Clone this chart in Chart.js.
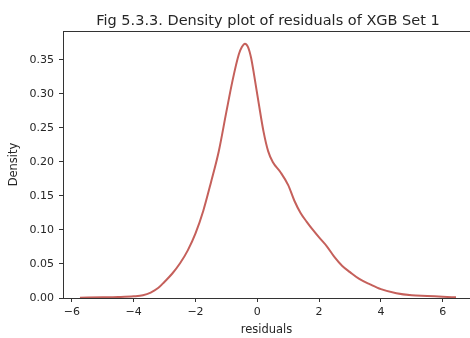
<!DOCTYPE html>
<html>
<head>
<meta charset="utf-8">
<script src="https://cdn.jsdelivr.net/npm/chart.js@4"></script>
<style>
  html, body { margin: 0; padding: 0; background: #fff; overflow: hidden; }
  #wrap { width: 470px; height: 338px; }
</style>
</head>
<body>
<div id="wrap"><canvas id="kde" width="470" height="338"></canvas></div>
<script>
// ==========================
// DATA
// ==========================
const residuals = [-5.74, -5.0, -4.5, -4.0, -3.7, -3.45, -3.2, -3.0, -2.75, -2.5, -2.25, -2.0,
  -1.75, -1.5, -1.25, -1.0, -0.8, -0.6, -0.5, -0.4, -0.3, -0.2, -0.1, 0.05, 0.2, 0.35, 0.5, 0.75,
  1.0, 1.2, 1.4, 1.6, 1.8, 2.0, 2.25, 2.5, 2.75, 3.0, 3.3, 3.65, 4.0, 4.5, 5.0, 5.5, 6.0, 6.43];
const density = [0.0005, 0.001, 0.0015, 0.0025, 0.004, 0.008, 0.015, 0.024, 0.036, 0.051, 0.070, 0.095,
  0.128, 0.170, 0.215, 0.274, 0.320, 0.358, 0.369, 0.374, 0.369, 0.353, 0.327, 0.285, 0.245, 0.216, 0.200, 0.185,
  0.166, 0.143, 0.125, 0.112, 0.100, 0.089, 0.076, 0.060, 0.047, 0.038, 0.028, 0.020, 0.013, 0.007, 0.004, 0.003, 0.0018, 0.001];
const xTicks = [-6, -4, -2, 0, 2, 4, 6];
const yTicks = [0.00, 0.05, 0.10, 0.15, 0.20, 0.25, 0.30, 0.35];
const titleText = "Fig 5.3.3. Density plot of residuals of XGB Set 1";

const ink = "#333";
const textInk = "#262626";
const font = "'DejaVu Sans', sans-serif";

// top spine + title centred over the axes (as matplotlib does)
const frame = {
  id: "frame",
  afterDraw(chart) {
    const { ctx, chartArea: a } = chart;
    ctx.save();
    ctx.strokeStyle = ink;
    ctx.lineWidth = 1;
    ctx.beginPath();
    ctx.moveTo(a.left, a.top + 0.5);
    ctx.lineTo(a.right, a.top + 0.5);
    ctx.stroke();
    ctx.fillStyle = textInk;
    ctx.font = "14.5px " + font;
    ctx.textAlign = "center";
    ctx.textBaseline = "alphabetic";
    ctx.fillText(titleText, 268, 24.5);
    ctx.restore();
  }
};

new Chart(document.getElementById("kde"), {
  type: "line",
  data: {
    datasets: [{
      data: residuals.map((x, i) => ({ x: x, y: density[i] })),
      borderColor: "#c5605b",
      borderWidth: 2,
      pointRadius: 0,
      cubicInterpolationMode: "monotone",
      fill: false
    }]
  },
  options: {
    responsive: false,
    animation: false,
    layout: { padding: { top: 31, left: 0, right: 0, bottom: 0 } },
    plugins: {
      legend: { display: false },
      tooltip: { enabled: false },
      title: { display: false }
    },
    scales: {
      x: {
        type: "linear",
        min: -6.288,
        max: 6.883,
        afterFit: s => { s.height = 40; },
        afterBuildTicks: s => { s.ticks = xTicks.map(v => ({ value: v })); },
        grid: { drawOnChartArea: false, drawTicks: true, tickLength: 4, color: ink },
        border: { display: true, color: ink, width: 1 },
        ticks: {
          color: textInk,
          font: { family: font, size: 11 },
          padding: 4,
          maxRotation: 0,
          callback: v => (v < 0 ? "\u2212" + Math.abs(v) : String(v))
        },
        title: {
          display: true,
          text: "residuals",
          color: textInk,
          font: { family: font, size: 11.5 },
          padding: { top: 0, bottom: 1.5 }
        }
      },
      y: {
        min: 0,
        max: 0.3926,
        afterFit: s => { s.width = 63; },
        afterBuildTicks: s => { s.ticks = yTicks.map(v => ({ value: v })); },
        grid: { drawOnChartArea: false, drawTicks: true, tickLength: 4, color: ink },
        border: { display: true, color: ink, width: 1 },
        ticks: {
          color: textInk,
          font: { family: font, size: 11 },
          padding: 5,
          callback: v => v.toFixed(2)
        },
        title: {
          display: true,
          text: "Density",
          color: textInk,
          font: { family: font, size: 11.5 },
          padding: { top: 7.5, bottom: 0 }
        }
      }
    }
  },
  plugins: [frame]
});
</script>
</body>
</html>
